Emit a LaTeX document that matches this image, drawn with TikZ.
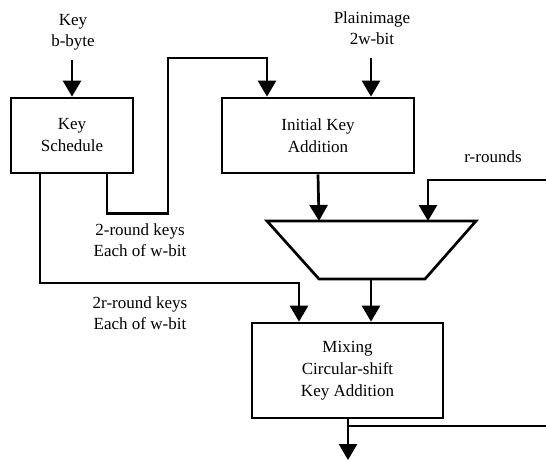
\documentclass[tikz,border=0pt]{standalone}
\usepackage{fontspec}
\setmainfont{Liberation Serif}
\newfontfamily\tnr{Liberation Serif}
\usetikzlibrary{arrows.meta}
\begin{document}
\begin{tikzpicture}[x=1pt,y=-1pt,
  line width=2.7pt,
  box/.style={draw,inner sep=0pt,align=center,font=\tnr\fontsize{17}{22}\selectfont},
  lbl/.style={inner sep=0pt,align=center,font=\tnr\fontsize{17}{21}\selectfont},
  arr/.style={-{Triangle[length=16pt,width=18pt]}}]
\useasboundingbox (0,0) rectangle (546,460);
% boxes
\node[box,minimum width=122pt,minimum height=75pt] (ks) at (72,135.5) {Key\\Schedule};
\node[box,minimum width=192pt,minimum height=75pt] (ik) at (318,135.5) {Initial Key\\Addition};
\node[box,minimum width=191pt,minimum height=95pt] (mix) at (347.5,370.5) {Mixing\\Circular-shift\\Key Addition};
% trapezoid
\coordinate (tTL) at (267,221);
\coordinate (tTR) at (476,221);
\coordinate (tBR) at (425,279);
\coordinate (tBL) at (319,279);
\draw (tTL) -- (tTR) -- (tBR) -- (tBL) -- cycle;
\coordinate (tIn1) at (319,221);
\coordinate (tIn2) at (428,221);
\coordinate (tOut) at (371,279);
% labels
\node[lbl] (keylbl) at (73,32) {Key\\b-byte};
\node[lbl] (plainlbl) at (372,28) {Plainimage\\2w-bit};
\node[lbl] (rlbl) at (493,157) {r-rounds};
\node[lbl] (k2lbl) at (140,240) {2-round keys\\Each of w-bit};
\node[lbl] (k2rlbl) at (140,313) {2r-round keys\\Each of w-bit};
% connector coordinates
\coordinate (keyin) at (72,60);
\coordinate (plainin) at (371,58);
\coordinate (rin) at (546,180);
\coordinate (outend) at (348,460);
\coordinate (branch) at (348,426);
\coordinate (branchend) at (546,426);
% connectors
\draw[arr] (keyin) -- (ks.north);
\draw[arr] (plainin) -- ([xshift=53pt]ik.north);
\draw[arr] ([xshift=35pt]ks.south) -- ++(0,39) -| (168,58) -| ([xshift=-51pt]ik.north);
\draw[arr] ([xshift=-32pt]ks.south) |- (299,283) -- ([xshift=-48.5pt]mix.north);
\draw[arr] (ik.south) -- (tIn1);
\draw[arr] (rin) -| (tIn2);
\draw[arr] (tOut) -- ([xshift=23.5pt]mix.north);
\draw[arr] ([xshift=0.5pt]mix.south) -- (outend);
\draw (branch) -- (branchend);
\end{tikzpicture}
\end{document}
